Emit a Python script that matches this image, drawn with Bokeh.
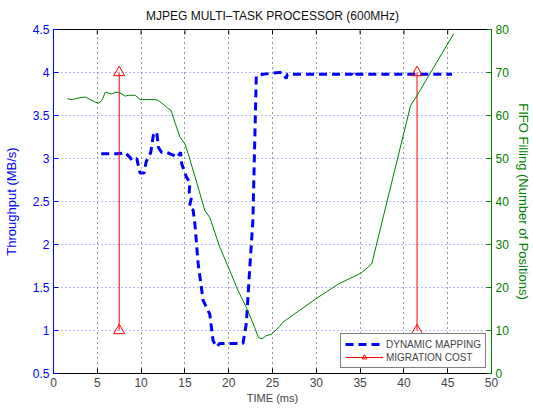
import math
from bokeh.plotting import figure
from bokeh.models import Range1d, LinearAxis, FixedTicker, Legend, LegendItem
from bokeh.embed import file_html
from bokeh.resources import INLINE

# ---- data ----
time_tp = [5.45, 7.24, 7.81, 8.18, 8.75, 8.94, 9.51, 9.63, 9.89, 10.34, 10.57, 11.1, 11.4, 11.78,
           11.97, 12.35, 12.92, 13.3, 13.67, 14.06, 14.51, 14.63, 15.19, 15.57, 15.49, 15.76,
           15.49, 15.94, 16.14, 16.51, 17.08, 17.84, 18.22, 18.6, 18.98, 20.11, 21.63, 22.01,
           22.39, 22.76, 23.15, 23.9, 25.8, 26.1, 26.56, 26.7, 28.83, 31.28, 34.1, 34.3, 34.5,
           37.2, 39.4, 41.7, 45.5]
throughput = [3.055, 3.055, 3.06, 3.07, 3.01, 2.98, 3.0, 2.94, 2.83, 2.83, 2.96, 3.07, 3.27, 3.31,
              3.13, 3.07, 3.07, 3.055, 3.04, 3.01, 3.07, 2.94, 2.78, 2.72, 2.61, 2.55,
              2.43, 2.40, 2.24, 1.78, 1.35, 1.19, 0.88, 0.81, 0.85, 0.85, 0.85, 1.08,
              1.70, 2.28, 3.96, 3.98, 4.0, 4.0, 3.93, 3.98, 3.98, 3.98, 3.98, 3.95, 3.98,
              3.98, 3.98, 3.98, 3.98]

time_fifo = [1.56, 2.13, 2.88, 3.64, 4.2, 4.77, 5.15, 5.53, 5.91, 6.28, 6.67, 7.05, 7.42, 7.81,
             8.18, 8.56, 9.32, 9.89, 11.59, 11.97, 12.53, 13.1, 13.41, 13.86, 14.43, 15.0, 15.38,
             16.51, 17.27, 17.84, 18.98, 20.11, 21.06, 22.01, 22.95, 23.41, 23.83, 24.28, 24.85,
             25.8, 26.17, 29.97, 32.6, 35.08, 35.65, 36.33, 40.76, 41.51, 45.68]
fifo = [63.9, 63.7, 64.1, 64.3, 63.7, 63.1, 62.9, 63.5, 65.4, 65.2, 65.0, 65.4, 65.4, 65.0,
        64.5, 64.7, 64.7, 63.7, 63.7, 63.5, 62.6, 61.6, 61.2, 58.4, 55.0, 53.4, 51.1,
        43.3, 37.9, 36.3, 29.4, 24.0, 19.3, 15.4, 10.8, 8.3, 8.1, 8.8, 9.1,
        10.9, 11.9, 17.4, 20.9, 23.3, 24.3, 25.5, 62.3, 64.7, 79.0]

mig_time = [7.5, 41.5]
mig_low = [1.0, 1.0]
mig_high = [4.0, 4.0]

x_ticks = [0, 5, 10, 15, 20, 25, 30, 35, 40, 45, 50]
y_ticks = [0.5, 1, 1.5, 2, 2.5, 3, 3.5, 4, 4.5]
fifo_ticks = [0, 10, 20, 30, 40, 50, 60, 70, 80]

FONT = "Liberation Sans"
BLUE = "#0000ff"
GREEN = "#008000"

p = figure(width=533, height=411, x_range=Range1d(0, 50), y_range=Range1d(0.5, 4.5),
           output_backend="svg", toolbar_location=None,
           min_border_left=53, min_border_right=40, min_border_top=29, min_border_bottom=38)
p.extra_y_ranges = {"fifo": Range1d(0, 80)}
p.background_fill_color = "white"
p.border_fill_color = "white"
p.outline_line_color = "black"

p.title.text = "MJPEG MULTI–TASK PROCESSOR (600MHz)"
p.title.align = "center"
p.title.vertical_align = "top"
p.title.text_font = FONT
p.title.text_font_size = "12px"
p.title.text_font_style = "normal"
p.title.text_color = "#101010"
p.title.standoff = 10

# bottom axis
xa = p.xaxis[0]
xa.ticker = FixedTicker(ticks=x_ticks)
xa.axis_label = "TIME (ms)"
xa.axis_label_text_font = FONT
xa.axis_label_text_font_size = "11px"
xa.axis_label_text_font_style = "normal"
xa.axis_label_standoff = 2
xa.major_label_text_font = FONT
xa.major_label_text_font_size = "12px"
xa.major_label_standoff = 4
xa.major_tick_in = 5
xa.major_tick_out = 0
xa.minor_tick_in = 0
xa.minor_tick_out = 0
xa.axis_line_color = "black"

# left axis
ya = p.yaxis[0]
ya.ticker = FixedTicker(ticks=y_ticks)
ya.major_label_overrides = {v: f"{v:g}" for v in y_ticks}
ya.axis_label = "Throughput (MB/s)"
ya.axis_label_text_font = FONT
ya.axis_label_text_font_size = "13px"
ya.axis_label_text_font_style = "normal"
ya.axis_label_text_color = BLUE
ya.axis_label_standoff = 11
ya.major_label_text_font = FONT
ya.major_label_text_font_size = "12px"
ya.major_label_text_color = BLUE
ya.major_label_standoff = 4
ya.major_tick_in = 5
ya.major_tick_out = 0
ya.minor_tick_in = 0
ya.minor_tick_out = 0
ya.axis_line_color = BLUE
ya.major_tick_line_color = BLUE

# right axis
ra = LinearAxis(y_range_name="fifo", ticker=FixedTicker(ticks=fifo_ticks),
                axis_label="FIFO Filling (Number of Positions)")
ra.axis_label_text_font = FONT
ra.axis_label_text_font_size = "13px"
ra.axis_label_text_font_style = "normal"
ra.axis_label_text_color = GREEN
ra.axis_label_standoff = 4
ra.major_label_text_font = FONT
ra.major_label_text_font_size = "12px"
ra.major_label_text_color = GREEN
ra.major_label_standoff = 4
ra.major_tick_in = 5
ra.major_tick_out = 0
ra.minor_tick_in = 0
ra.minor_tick_out = 0
ra.axis_line_color = GREEN
ra.major_tick_line_color = GREEN
p.add_layout(ra, "right")

# grids
p.xgrid.ticker = FixedTicker(ticks=x_ticks)
p.xgrid.grid_line_color = "#303030"
p.xgrid.grid_line_dash = "1 4"
p.xgrid.grid_line_width = 1
p.ygrid.ticker = FixedTicker(ticks=y_ticks)
p.ygrid.grid_line_color = "#7070ff"
p.ygrid.grid_line_dash = "1 3"
p.ygrid.grid_line_width = 1

# top-edge tick marks (inward, clipped by the frame)
p.scatter(x_ticks, [p.y_range.end] * len(x_ticks), marker="dash", angle=math.pi / 2,
          size=10, line_color="black", line_width=1)

# data glyphs
r_blue = p.line(time_tp, throughput, line_color=BLUE, line_width=3, line_dash="8 5")
r_seg = p.segment(x0=mig_time, y0=mig_low, x1=mig_time, y1=mig_high, line_color="red", line_width=1)
r_tri1 = p.scatter(mig_time, mig_high, marker="triangle", size=11, line_color="red",
                   fill_alpha=0, line_width=1)
r_tri2 = p.scatter(mig_time, mig_low, marker="triangle", size=11, line_color="red",
                   fill_alpha=0, line_width=1)
p.line(time_fifo, fifo, line_color=GREEN, line_width=1, y_range_name="fifo")

legend = Legend(items=[LegendItem(label="DYNAMIC MAPPING", renderers=[r_blue]),
                       LegendItem(label="MIGRATION COST", renderers=[r_seg, r_tri1])],
                location="bottom_right")
legend.label_text_font = FONT
legend.label_text_font_size = "10px"
legend.label_height = 12
legend.glyph_height = 12
legend.glyph_width = 38
legend.label_standoff = 3
legend.spacing = 1
legend.padding = 4
legend.margin = 5
legend.border_line_color = "black"
legend.border_line_width = 1
legend.background_fill_alpha = 1
p.add_layout(legend)

open("out.html", "w").write(file_html(p, INLINE))
